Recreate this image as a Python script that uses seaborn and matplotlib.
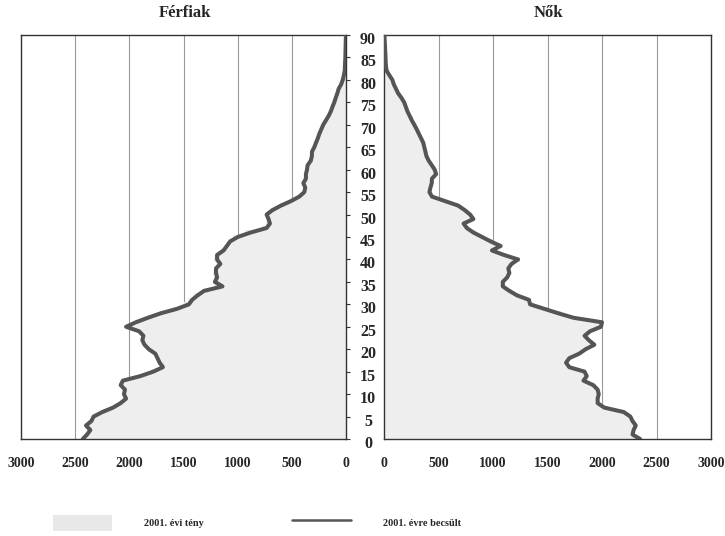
import numpy as np
import pandas as pd
import matplotlib
matplotlib.use("Agg")
import matplotlib.pyplot as plt
import matplotlib.transforms as mtransforms
from matplotlib.patches import Patch
from matplotlib.lines import Line2D
import seaborn as sns

# ---------------- data ----------------
ages = list(range(0, 91))
age_ticks = list(range(0, 91, 5))
value_ticks = [0, 500, 1000, 1500, 2000, 2500, 3000]

# 2001. évi tény (actual) - men
male_actual = [
    2400, 2380, 2370, 2380, 2350, 2320, 2240, 2150, 2080, 2040, 2040,
    2040, 2060, 2050, 1920, 1800, 1720, 1730, 1740, 1770, 1810,
    1850, 1870, 1880, 1900, 1990, 1930, 1830, 1720, 1600, 1500,
    1460, 1400, 1330, 1220, 1230, 1220, 1230, 1220, 1200, 1220,
    1200, 1150, 1120, 1090, 1040, 930, 780, 740, 720, 740,
    690, 610, 520, 440, 400, 385, 395, 375, 375, 365,
    355, 330, 318, 312, 295, 278, 262, 248, 230, 212,
    188, 163, 143, 127, 110, 96, 82, 68, 48, 32,
    22, 14, 11, 9, 7, 6, 5, 4, 3, 2,
]
# 2001. évre becsült (estimated) - men
male_estimated = [
    2430, 2390, 2360, 2400, 2350, 2330, 2250, 2150, 2080, 2030, 2050,
    2040, 2080, 2060, 1900, 1780, 1690, 1720, 1740, 1760, 1820,
    1860, 1880, 1870, 1910, 2030, 1940, 1830, 1710, 1560, 1450,
    1420, 1370, 1310, 1140, 1210, 1190, 1200, 1200, 1160, 1190,
    1190, 1130, 1100, 1070, 1000, 880, 733, 702, 715, 733,
    678, 600, 508, 431, 385, 376, 394, 370, 370, 360,
    354, 325, 315, 314, 293, 277, 260, 246, 228, 210,
    185, 160, 140, 125, 108, 95, 80, 68, 45, 30,
    20, 12, 10, 8, 6, 5, 4, 3, 2, 1,
]
# 2001. évi tény (actual) - women
female_actual = [
    2330, 2280, 2290, 2300, 2280, 2250, 2190, 2030, 1960, 1960, 1960,
    1950, 1920, 1850, 1860, 1840, 1720, 1680, 1710, 1790, 1850,
    1910, 1880, 1850, 1890, 1980, 1980, 1760, 1620, 1500, 1380,
    1340, 1240, 1170, 1110, 1110, 1140, 1160, 1160, 1190, 1250,
    1130, 1030, 1080, 1000, 920, 840, 780, 750, 820, 790,
    745, 690, 570, 450, 425, 430, 440, 445, 475, 465,
    440, 412, 392, 382, 372, 362, 342, 322, 302, 280,
    257, 237, 217, 202, 187, 162, 132, 112, 92, 78,
    52, 27, 19, 16, 15, 13, 11, 9, 7, 5,
]
# 2001. évre becsült (estimated) - women
female_estimated = [
    2350, 2280, 2290, 2310, 2280, 2260, 2200, 2020, 1960, 1960, 1970,
    1960, 1920, 1830, 1860, 1840, 1700, 1670, 1700, 1790, 1850,
    1930, 1880, 1840, 1890, 1990, 2000, 1740, 1600, 1470, 1340,
    1330, 1220, 1150, 1090, 1090, 1130, 1150, 1140, 1170, 1230,
    1100, 990, 1070, 980, 900, 820, 760, 730, 820, 790,
    740, 680, 560, 440, 417, 426, 438, 440, 478, 465,
    438, 410, 390, 380, 370, 360, 340, 320, 300, 278,
    255, 235, 215, 200, 185, 160, 130, 110, 90, 77,
    50, 25, 18, 15, 14, 12, 10, 8, 6, 4,
]

titles = ["Férfiak", "Nők"]
legend_labels = ["2001. évi tény", "2001. évre becsült"]

df = pd.DataFrame({
    "age": ages,
    "male_actual": male_actual,
    "male_estimated": male_estimated,
    "female_actual": female_actual,
    "female_estimated": female_estimated,
})

# ---------------- style ----------------
sns.set_theme(style="white")
plt.rcParams["font.family"] = ["Liberation Serif", "DejaVu Serif"]

fill_color = "#eeeeee"
line_color = "#555555"
grid_color = "#9a9a9a"
spine_color = "#333333"

W, H = 725, 536
fig = plt.figure(figsize=(W / 100, H / 100), dpi=100)
fig.patch.set_facecolor("white")

ax_l = fig.add_axes([21 / W, (H - 439) / H, 325 / W, 404 / H])
ax_r = fig.add_axes([384 / W, (H - 439) / H, 327 / W, 404 / H])

for ax, actual, est in [(ax_l, "male_actual", "male_estimated"),
                        (ax_r, "female_actual", "female_estimated")]:
    ax.set_facecolor("white")
    ax.set_axisbelow(True)
    ax.barh(df["age"], df[actual], height=1.0, color=fill_color,
            linewidth=0, zorder=1)
    sns.lineplot(data=df, x=est, y="age", orient="y", ax=ax,
                 color=line_color, linewidth=2.9, zorder=3)
    ax.set_ylim(0, 90)
    ax.set_yticks(age_ticks)
    ax.set_xticks(value_ticks)
    ax.grid(axis="x", color=grid_color, linewidth=0.8)
    ax.grid(axis="y", visible=False)
    ax.set_xlabel("")
    ax.set_ylabel("")
    for s in ax.spines.values():
        s.set_color(spine_color)
        s.set_linewidth(1.0)
        s.set_visible(True)
    ax.tick_params(axis="x", direction="out", length=3, width=0.8,
                   color=spine_color, pad=10, labelsize=10)
    for lab in ax.get_xticklabels():
        lab.set_fontweight("bold")

ax_l.set_xlim(3000, 0)
ax_r.set_xlim(0, 3000)

# left panel: ticks on right side, no labels
ax_l.yaxis.tick_right()
ax_l.tick_params(axis="y", direction="out", length=3, width=0.8,
                 color=spine_color, labelright=False, labelleft=False)

# right panel: labels on left, centered in the gap
ax_r.yaxis.tick_left()
ax_r.tick_params(axis="y", length=0, pad=11.5, labelsize=11.5)
offset = mtransforms.ScaledTranslation(0, -3 / 100, fig.dpi_scale_trans)
for lab in ax_r.get_yticklabels():
    lab.set_fontweight("bold")
    lab.set_horizontalalignment("center")
    lab.set_transform(lab.get_transform() + offset)

# titles
fig.text(185 / W, 1 - 13 / H, titles[0], ha="center", va="center",
         fontsize=12, fontweight="bold")
fig.text(548 / W, 1 - 13 / H, titles[1], ha="center", va="center",
         fontsize=12, fontweight="bold")

# legend
handles = [
    Patch(facecolor="#e8e8e8", edgecolor="none"),
    Line2D([0], [0], color=line_color, linewidth=1.8),
]
fig.legend(handles, legend_labels, loc="center",
           bbox_to_anchor=(257 / W, 13 / H), ncol=2, frameon=False,
           prop={"size": 7.4, "weight": "bold"},
           handlelength=5.7, handleheight=2.1,
           handletextpad=3.1, columnspacing=8.6, borderpad=0.2)

fig.savefig("out.png", dpi=100, facecolor="white")
